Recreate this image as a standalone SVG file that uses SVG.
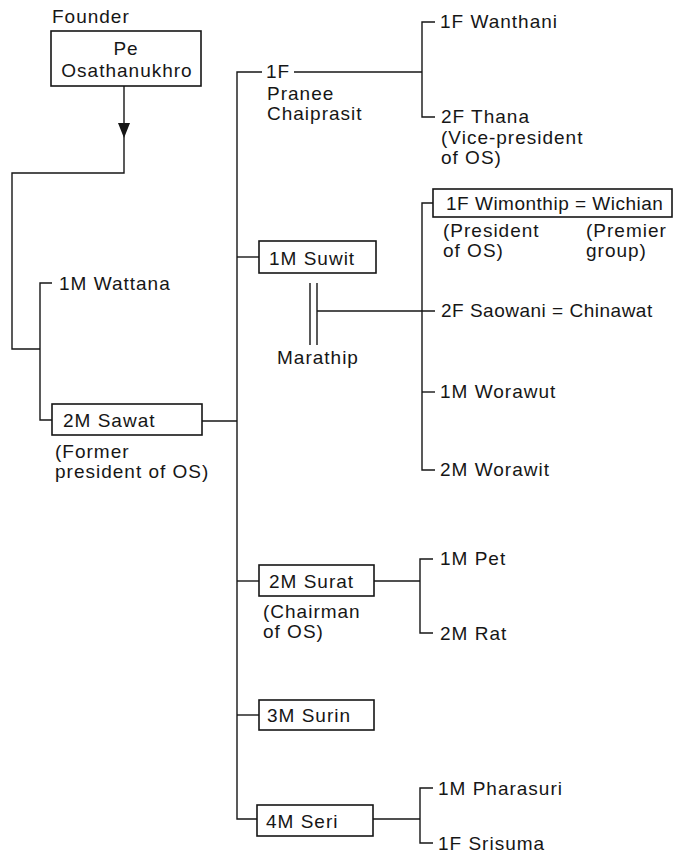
<svg xmlns="http://www.w3.org/2000/svg" width="689" height="853" viewBox="0 0 689 853">
<defs>
<style>
text{font-family:"Liberation Sans",Arial,sans-serif;font-size:19px;letter-spacing:1px;fill:#161616}
.box{fill:#fff;stroke:#161616;stroke-width:1.6}
.ln{fill:none;stroke:#161616;stroke-width:1.4}
.tight{letter-spacing:0.5px}
.head{fill:#161616;stroke:none}
</style>
</defs>
<rect width="689" height="853" fill="#fff"/>

<g id="connectors">
<path class="ln" d="M124,86 V173 H12 V349 H40"/>
<polygon class="head" points="118,123 130,123 124,138"/>
<path class="ln" d="M52,283 H40 V420 H52"/>
<path class="ln" d="M202,421 H237"/>
<path class="ln" d="M262,72 H237 V819 H257"/>
<path class="ln" d="M294,72 H422"/>
<path class="ln" d="M435,22 H422 V117 H435"/>
<path class="ln" d="M237,257 H259"/>
<path class="ln" d="M433,203 H422 V470 H435"/>
<path class="ln" d="M422,392 H435"/>
<path class="ln" d="M310,283 V345 M317,283 V345"/>
<path class="ln" d="M317,311 H435"/>
<path class="ln" d="M237,581 H259"/>
<path class="ln" d="M374,581 H420"/>
<path class="ln" d="M433,559 H420 V633 H433"/>
<path class="ln" d="M237,715 H259"/>
<path class="ln" d="M373,819 H420"/>
<path class="ln" d="M433,788 H420 V843 H433"/>
</g>

<g id="founder-label"><text x="52" y="23">Founder</text></g>

<g id="pe">
<rect class="box" x="51" y="31" width="150" height="55"/>
<text x="126" y="55" text-anchor="middle">Pe</text>
<text x="127" y="77" text-anchor="middle">Osathanukhro</text>
</g>

<g id="wattana"><text x="59" y="290">1M Wattana</text></g>

<g id="sawat">
<rect class="box" x="52" y="404" width="150" height="31"/>
<text x="63" y="427">2M Sawat</text>
<text x="55" y="458">(Former</text>
<text x="55" y="478">president of OS)</text>
</g>

<g id="pranee">
<text x="266" y="78">1F</text>
<text x="267" y="100">Pranee</text>
<text x="267" y="120">Chaiprasit</text>
</g>

<g id="wanthani"><text x="440" y="28">1F Wanthani</text></g>

<g id="thana">
<text x="441" y="123">2F Thana</text>
<text x="441" y="144">(Vice-president</text>
<text x="441" y="164">of OS)</text>
</g>

<g id="suwit">
<rect class="box" x="259" y="241" width="117" height="32"/>
<text x="269" y="265">1M Suwit</text>
</g>

<g id="marathip"><text x="277" y="364">Marathip</text></g>

<g id="wimonthip">
<rect class="box" x="433" y="189" width="239" height="28"/>
<text class="tight" x="446" y="210">1F Wimonthip = Wichian</text>
<text x="443" y="237">(President</text>
<text x="443" y="257">of OS)</text>
<text x="586" y="237">(Premier</text>
<text x="586" y="257">group)</text>
</g>

<g id="saowani"><text class="tight" x="441" y="317">2F Saowani = Chinawat</text></g>
<g id="worawut"><text x="440" y="398">1M Worawut</text></g>
<g id="worawit"><text x="440" y="476">2M Worawit</text></g>

<g id="surat">
<rect class="box" x="259" y="565" width="115" height="31"/>
<text x="269" y="588">2M Surat</text>
<text x="263" y="618">(Chairman</text>
<text x="263" y="638">of OS)</text>
</g>

<g id="pet"><text x="440" y="565">1M Pet</text></g>
<g id="rat"><text x="440" y="640">2M Rat</text></g>

<g id="surin">
<rect class="box" x="259" y="700" width="115" height="30"/>
<text x="267" y="722">3M Surin</text>
</g>

<g id="seri">
<rect class="box" x="257" y="805" width="116" height="31"/>
<text x="266" y="828">4M Seri</text>
</g>

<g id="pharasuri"><text x="438" y="795">1M Pharasuri</text></g>
<g id="srisuma"><text x="438" y="850">1F Srisuma</text></g>
</svg>
